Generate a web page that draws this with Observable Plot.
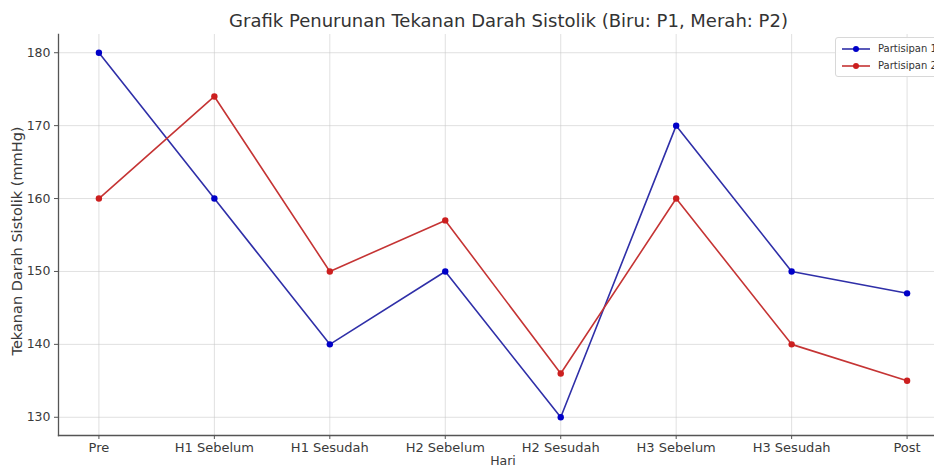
<!DOCTYPE html>
<html>
<head>
<meta charset="utf-8">
<script src="https://cdn.jsdelivr.net/npm/d3@7"></script>
<script src="https://cdn.jsdelivr.net/npm/@observablehq/plot@0.6"></script>
<style>
  html, body { margin: 0; padding: 0; background: #fff; overflow: hidden; }
  #wrap { position: relative; width: 934px; height: 467px; overflow: hidden; font-family: "DejaVu Sans", sans-serif; }
  #chart svg { max-width: none !important; width: 947px; height: 467px; display: block; }
  #title { position: absolute; top: 11px; left: 64px; width: 889px; text-align: center; font-size: 18px; line-height: 20px; color: #333; white-space: nowrap; }
  #legend { position: absolute; left: 835px; top: 37px; width: 120px; height: 38px; border: 1px solid #d8d8d8; border-radius: 3px; background: rgba(255,255,255,0.9); font-size: 10px; color: #333; }
  .item { position: absolute; left: 5px; height: 14px; white-space: nowrap; }
  .item svg { position: absolute; left: 0; top: 0; }
  .item span { position: absolute; left: 37px; top: 1px; }
</style>
</head>
<body>
<div id="wrap">
  <div id="chart"></div>
  <div id="title"></div>
  <div id="legend"></div>
</div>
<script>
const title = "Grafik Penurunan Tekanan Darah Sistolik (Biru: P1, Merah: P2)";
const xLabel = "Hari";
const yLabel = "Tekanan Darah Sistolik (mmHg)";
const days = ["Pre", "H1 Sebelum", "H1 Sesudah", "H2 Sebelum", "H2 Sesudah", "H3 Sebelum", "H3 Sesudah", "Post"];
const participant1 = [180, 160, 140, 150, 130, 170, 150, 147];
const participant2 = [160, 174, 150, 157, 136, 160, 140, 135];
const seriesNames = ["Partisipan 1", "Partisipan 2"];
const lineColors = ["#2f2fa8", "#c53434"];
const dotColors = ["#0000c8", "#cc1f1f"];
const yTicks = [130, 140, 150, 160, 170, 180];

const data = [
  ...days.map((d, i) => ({i, day: d, value: participant1[i], series: seriesNames[0]})),
  ...days.map((d, i) => ({i, day: d, value: participant2[i], series: seriesNames[1]}))
];

const chart = Plot.plot({
  width: 947,
  height: 467,
  marginLeft: 58,
  marginRight: 0,
  marginTop: 34,
  marginBottom: 32,
  style: {fontFamily: "DejaVu Sans, sans-serif", fontSize: "12px", color: "#333", background: "#fff", maxWidth: "none"},
  x: {type: "linear", domain: [-0.35, 7.35]},
  y: {domain: [127.5, 182.5]},
  color: {domain: seriesNames, range: lineColors},
  marks: [
    Plot.gridX(d3.range(days.length), {stroke: "#c8c8c8", strokeOpacity: 0.7, strokeWidth: 0.8}),
    Plot.gridY(yTicks, {stroke: "#c8c8c8", strokeOpacity: 0.7, strokeWidth: 0.8}),
    Plot.axisX(d3.range(days.length), {
      tickFormat: i => days[i], tickSize: 4, tickPadding: 3, fontSize: 13,
      stroke: "#555", fill: "#3a3a3a", label: null
    }),
    Plot.text([xLabel], {frameAnchor: "bottom", lineAnchor: "middle", dy: 25, text: d => d, fontSize: 12.5, fill: "#3a3a3a"}),
    Plot.axisY(yTicks, {
      tickSize: 4, tickPadding: 4, fontSize: 12.5, stroke: "#555", fill: "#3a3a3a", label: null
    }),
    Plot.text([yLabel], {frameAnchor: "left", textAnchor: "middle", lineAnchor: "middle", dx: -41, dy: 6, rotate: -90, text: d => d, fontSize: 14.5, fill: "#3a3a3a"}),
    Plot.frame({anchor: "left", stroke: "#555", strokeWidth: 1.3}),
    Plot.frame({anchor: "bottom", stroke: "#555", strokeWidth: 1.3}),
    Plot.line(data, {x: "i", y: "value", z: "series", stroke: "series", strokeWidth: 1.6}),
    Plot.dot(data, {x: "i", y: "value", fill: d => dotColors[seriesNames.indexOf(d.series)], r: 3.2, stroke: "none"})
  ]
});
document.getElementById("chart").appendChild(chart);
document.getElementById("title").textContent = title;

const legend = document.getElementById("legend");
seriesNames.forEach((name, k) => {
  const item = document.createElement("div");
  item.className = "item";
  item.style.top = (4 + k * 17) + "px";
  item.innerHTML = `<svg width="30" height="14"><line x1="1" y1="7" x2="29" y2="7" stroke="${lineColors[k]}" stroke-width="1.6"/><circle cx="15" cy="7" r="3" fill="${dotColors[k]}"/></svg><span></span>`;
  item.querySelector("span").textContent = name;
  legend.appendChild(item);
});
</script>
</body>
</html>
